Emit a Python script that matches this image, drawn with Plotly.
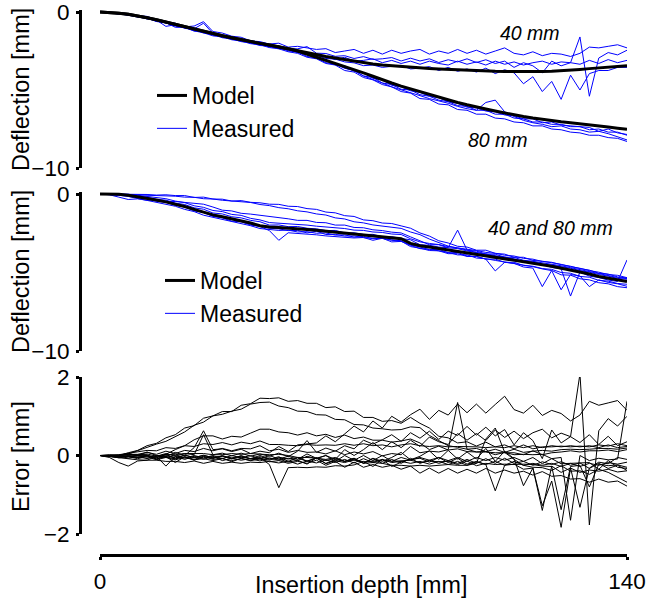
import plotly.graph_objects as go

# ---------------- data ----------------
X_MM = [0, 2.5, 5, 7.5, 10, 12.5, 15, 17.5, 20, 22.5,
        25, 27.5, 30, 32.5, 35, 37.5, 40, 42.5, 45, 47.5,
        50, 52.5, 55, 57.5, 60, 62.5, 65, 67.5, 70, 72.5,
        75, 77.5, 80, 82.5, 85, 87.5, 90, 92.5, 95, 97.5,
        100, 102.5, 105, 107.5, 110, 112.5, 115, 117.5, 120, 122.5,
        125, 127.5, 130, 132.5, 135, 137.5, 140]

# top panel: separate models for 40 mm and 80 mm
MODEL40_TOP = [0, -0.02, -0.08, -0.15, -0.25, -0.37, -0.5, -0.65, -0.8, -0.95,
               -1.1, -1.25, -1.4, -1.52, -1.65, -1.78, -1.9, -2.01, -2.12, -2.23,
               -2.35, -2.47, -2.6, -2.72, -2.85, -2.95, -3.05, -3.15, -3.25, -3.33,
               -3.4, -3.45, -3.5, -3.54, -3.58, -3.62, -3.65, -3.68, -3.71, -3.74,
               -3.76, -3.78, -3.8, -3.81, -3.82, -3.83, -3.83, -3.82, -3.8, -3.77,
               -3.73, -3.68, -3.63, -3.58, -3.54, -3.5, -3.45]
MODEL80_TOP = [0, -0.02, -0.08, -0.15, -0.25, -0.37, -0.5, -0.65, -0.8, -0.95,
               -1.1, -1.25, -1.4, -1.52, -1.65, -1.78, -1.9, -2.01, -2.12, -2.23,
               -2.35, -2.5, -2.7, -2.88, -3.05, -3.25, -3.45, -3.68, -3.9, -4.12,
               -4.35, -4.55, -4.75, -4.93, -5.1, -5.28, -5.45, -5.62, -5.8, -5.95,
               -6.1, -6.22, -6.35, -6.48, -6.6, -6.7, -6.8, -6.89, -6.97, -7.04,
               -7.1, -7.16, -7.22, -7.3, -7.37, -7.45, -7.52]

MEAS40_A = [0, -0.02, -0.08, -0.1, -0.25, -0.28, -0.5, -0.68, -0.72, -0.95,
            -0.9, -0.62, -1.25, -1.35, -1.55, -1.62, -1.85, -1.9, -2.05, -2.0,
            -2.25, -2.2, -2.3, -2.4, -2.35, -2.6, -2.5, -2.4, -2.65, -2.45,
            -2.7, -2.45, -2.65, -2.5, -2.4, -2.7, -2.5, -2.65, -2.4, -2.65,
            -2.45, -2.7, -2.5, -2.3, -2.65, -2.75, -2.55, -2.8, -2.65, -2.7,
            -2.85, -2.65, -2.25, -2.3, -2.2, -2.1, -2.3]
MEAS40_B = [0, -0.05, -0.08, -0.22, -0.28, -0.45, -0.52, -0.92, -0.82, -1.05,
            -1.12, -1.35, -1.42, -1.65, -1.72, -1.9, -1.98, -2.15, -2.18, -2.35,
            -2.42, -2.6, -2.62, -2.8, -2.85, -3.05, -2.9, -3.15, -3.1, -3.0,
            -3.25, -3.1, -3.3, -3.15, -3.35, -3.15, -3.3, -3.4, -3.15, -3.35,
            -3.2, -3.4, -3.15, -3.35, -3.2, -3.4, -3.25, -3.15, -3.35, -3.2,
            -3.25, -3.35, -3.1, -3.3, -3.05, -3.25, -3.1]
MEAS40_C = [0, -0.04, -0.14, -0.18, -0.3, -0.38, -0.58, -0.68, -0.98, -0.98,
            -1.22, -1.28, -1.48, -1.52, -1.73, -1.82, -1.98, -2.08, -2.24, -2.28,
            -2.44, -2.52, -2.74, -2.78, -2.98, -3.02, -3.2, -3.26, -3.44, -3.4,
            -3.55, -3.5, -3.42, -3.65, -3.6, -3.5, -3.75, -3.55, -3.8, -3.65,
            -3.85, -3.6, -3.95, -3.7, -3.9, -4.6, -4.15, -5.1, -4.45, -5.6,
            -4.05, -5.0, -3.95, -3.75, -3.75, -3.55, -3.55]
MEAS40_D = [0, 0, -0.08, -0.12, -0.24, -0.33, -0.52, -0.6, -0.82, -0.9,
            -1.08, -0.72, -1.38, -1.46, -1.66, -1.72, -1.92, -1.97, -2.14, -2.17,
            -2.38, -2.36, -2.22, -2.64, -2.66, -2.84, -2.8, -2.98, -2.86, -3.04,
            -3.0, -2.92, -3.14, -2.96, -3.14, -3.0, -3.24, -3.06, -3.2, -3.0,
            -3.24, -3.06, -3.3, -3.15, -3.55, -3.25, -3.45, -3.9, -3.15, -3.45,
            -3.25, -1.6, -5.4, -2.95, -2.6, -2.75, -2.45]

MEAS80_A = [0, -0.03, -0.12, -0.15, -0.3, -0.37, -0.55, -0.65, -0.86, -0.94,
            -1.16, -1.24, -1.46, -1.54, -1.74, -1.78, -1.99, -2.04, -2.22, -2.26,
            -2.5, -2.56, -2.85, -2.95, -3.25, -3.35, -3.6, -3.75, -4.1, -4.2,
            -4.55, -4.65, -4.95, -5.0, -5.3, -5.4, -5.65, -5.75, -6.0, -6.05,
            -6.3, -6.3, -6.55, -6.55, -6.8, -6.85, -7.05, -7.05, -7.2, -7.2,
            -7.35, -7.35, -7.55, -7.5, -7.7, -7.7, -7.9]
MEAS80_B = [0, -0.02, -0.07, -0.13, -0.23, -0.35, -0.6, -0.62, -0.78, -0.9,
            -1.05, -1.2, -1.38, -1.5, -1.6, -1.75, -1.85, -1.98, -2.1, -2.2,
            -2.35, -2.55, -2.75, -2.95, -3.15, -3.3, -3.6, -3.75, -4.1, -4.3,
            -4.55, -4.8, -5.0, -5.2, -5.35, -5.55, -5.7, -5.85, -6.05, -6.2,
            -6.3, -5.8, -5.65, -6.4, -6.7, -6.95, -7.1, -7.2, -7.35, -7.3,
            -7.5, -7.55, -7.7, -7.65, -7.8, -8.0, -8.2]
MEAS80_C = [0, -0.04, -0.08, -0.18, -0.24, -0.41, -0.5, -0.7, -0.8, -1.02,
            -1.1, -1.31, -1.4, -1.6, -1.65, -1.84, -1.9, -2.1, -2.12, -2.32,
            -2.37, -2.6, -2.66, -2.95, -3.05, -3.4, -3.45, -3.8, -3.9, -4.25,
            -4.35, -4.7, -4.8, -5.05, -5.15, -5.4, -5.5, -5.75, -5.85, -6.1,
            -6.15, -6.35, -6.4, -6.6, -6.65, -6.85, -6.85, -7.1, -7.05, -7.25,
            -7.3, -7.35, -7.4, -7.65, -7.5, -7.75, -7.85]
MEAS80_D = [0, -0.04, -0.12, -0.18, -0.33, -0.4, -0.61, -0.7, -0.91, -1.0,
            -1.21, -1.33, -1.53, -1.6, -1.78, -1.86, -2.03, -2.1, -2.28, -2.36,
            -2.55, -2.65, -2.9, -3.0, -3.3, -3.4, -3.75, -3.85, -4.2, -4.35,
            -4.65, -4.8, -5.1, -5.2, -5.55, -5.6, -5.9, -5.95, -6.25, -6.3,
            -6.55, -6.55, -6.8, -6.85, -7.05, -7.1, -7.3, -7.3, -7.5, -7.55,
            -7.7, -7.75, -7.9, -7.9, -8.05, -8.1, -8.3]

# middle panel: one model for 40 and 80 mm
MODEL_MID = [0, 0, -0.02, -0.08, -0.17, -0.28, -0.38, -0.5, -0.63, -0.8,
             -0.98, -1.15, -1.33, -1.45, -1.57, -1.7, -1.85, -2.02, -2.1, -2.13,
             -2.16, -2.2, -2.26, -2.31, -2.37, -2.44, -2.5, -2.56, -2.62, -2.67,
             -2.72, -2.77, -2.85, -3.15, -3.3, -3.38, -3.47, -3.57, -3.65, -3.73,
             -3.82, -3.92, -4.0, -4.1, -4.2, -4.3, -4.4, -4.5, -4.6, -4.72,
             -4.85, -4.97, -5.1, -5.25, -5.37, -5.48, -5.58]
MID_1 = [0, 0, -0.02, -0.01, -0.04, -0.03, -0.07, -0.05, -0.1, -0.1,
         -0.22, -0.2, -0.32, -0.33, -0.45, -0.42, -0.53, -0.56, -0.65, -0.66,
         -0.78, -0.8, -0.93, -0.98, -1.15, -1.2, -1.38, -1.43, -1.65, -1.7,
         -1.85, -1.88, -2.03, -2.18, -2.48, -2.68, -2.98, -3.12, -3.33, -3.38,
         -3.58, -3.58, -3.78, -3.83, -4.03, -4.03, -4.23, -4.28, -4.38, -4.48,
         -4.63, -4.73, -4.88, -4.98, -5.13, -5.18, -5.33]
MID_2 = [0, 0, -0.01, -0.04, -0.04, -0.08, -0.09, -0.14, -0.14, -0.2,
         -0.21, -0.3, -0.32, -0.4, -0.44, -0.52, -0.54, -0.67, -0.74, -0.87,
         -0.94, -1.07, -1.14, -1.27, -1.34, -1.52, -1.59, -1.77, -1.84, -1.97,
         -2.04, -2.12, -2.19, -2.42, -2.59, -2.87, -3.09, -3.32, -3.44, -3.57,
         -3.64, -3.82, -3.84, -4.02, -4.04, -4.22, -4.29, -4.37, -4.49, -4.57,
         -4.69, -4.82, -4.94, -5.07, -5.19, -5.32, -5.39]
MID_3 = [0, -0.05, -0.2, -0.35, -0.31, -0.4, -0.4, -0.47, -0.48, -0.55,
         -0.58, -0.65, -0.83, -1.03, -1.08, -1.23, -1.28, -1.35, -1.43, -1.53,
         -1.58, -1.68, -1.68, -1.81, -1.83, -1.98, -1.98, -2.13, -2.15, -2.28,
         -2.33, -2.43, -2.48, -2.73, -2.98, -3.23, -3.23, -3.43, -3.48, -3.63,
         -3.73, -3.83, -3.93, -4.03, -4.13, -4.28, -4.28, -4.48, -4.53, -4.63,
         -4.73, -4.88, -4.98, -5.13, -5.23, -5.38, -5.43]
MID_4 = [0, -0.02, -0.06, -0.09, -0.17, -0.28, -0.47, -0.53, -0.72, -0.83,
         -1.08, -1.17, -1.43, -1.52, -1.73, -1.77, -1.98, -2.07, -2.33, -2.95,
         -2.47, -2.5, -2.57, -2.6, -2.67, -2.7, -2.77, -2.8, -2.77, -2.95,
         -2.82, -3.05, -3.02, -3.25, -3.37, -3.55, -3.52, -3.75, -3.72, -3.95,
         -3.97, -4.15, -4.9, -4.35, -4.42, -4.65, -4.72, -5.9, -4.87, -5.15,
         -5.17, -5.4, -5.47, -5.65, -5.72, -5.9, -5.97]
MID_5 = [0, 0, -0.04, -0.05, -0.14, -0.2, -0.35, -0.39, -0.58, -0.67,
         -0.88, -0.97, -1.21, -1.27, -1.45, -1.52, -1.68, -1.77, -1.98, -1.97,
         -2.08, -2.07, -2.18, -2.22, -2.33, -2.32, -2.48, -2.47, -2.58, -2.57,
         -2.73, -2.72, -2.83, -2.92, -3.23, -3.27, -3.38, -3.42, -2.3, -3.57,
         -3.73, -3.82, -3.98, -4.02, -4.18, -4.27, -4.38, -4.47, -4.68, -4.77,
         -6.5, -4.97, -5.23, -5.32, -5.48, -5.57, -4.2]
MID_6 = [0, -0.01, -0.05, -0.09, -0.22, -0.28, -0.43, -0.47, -0.71, -0.79,
         -1.03, -1.15, -1.38, -1.47, -1.63, -1.72, -1.93, -2.02, -2.18, -2.22,
         -2.33, -2.32, -2.48, -2.37, -2.58, -2.57, -2.68, -2.67, -2.78, -2.82,
         -2.83, -2.92, -2.98, -3.27, -3.48, -3.52, -3.63, -3.72, -3.88, -3.87,
         -4.08, -4.12, -4.23, -4.32, -4.43, -4.52, -4.63, -4.77, -4.88, -6.1,
         -5.13, -5.22, -5.9, -5.47, -5.63, -5.72, -5.88]
MID_7 = [0, 0, 0, -0.02, -0.08, -0.15, -0.26, -0.3, -0.45, -0.55,
         -0.75, -0.85, -1.05, -1.12, -1.3, -1.36, -1.55, -1.65, -1.82, -1.85,
         -1.9, -1.95, -1.98, -2.05, -2.1, -2.18, -2.2, -2.3, -2.32, -2.42,
         -2.45, -2.55, -2.58, -2.85, -3.05, -3.15, -3.22, -3.35, -3.42, -3.5,
         -3.6, -3.72, -3.78, -3.9, -3.95, -4.1, -4.15, -4.3, -4.35, -4.5,
         -4.6, -4.75, -4.85, -5.05, -5.1, -5.28, -5.35]
MID_8 = [0, -0.03, -0.08, -0.16, -0.28, -0.4, -0.5, -0.65, -0.78, -0.98,
         -1.12, -1.35, -1.48, -1.65, -1.74, -1.9, -2.02, -2.2, -2.25, -2.32,
         -2.3, -2.42, -2.4, -2.5, -2.48, -2.62, -2.6, -2.75, -2.7, -2.85,
         -2.82, -2.95, -3.0, -3.35, -3.45, -3.6, -3.62, -3.8, -3.8, -3.98,
         -3.98, -4.15, -4.15, -4.35, -4.35, -4.55, -4.6, -4.75, -4.8, -5.0,
         -5.05, -5.25, -5.3, -5.5, -5.55, -5.7, -5.75]

TOP40 = [MEAS40_A, MEAS40_B, MEAS40_C, MEAS40_D]
TOP80 = [MEAS80_A, MEAS80_B, MEAS80_C, MEAS80_D]
MIDS = [MID_1, MID_2, MID_3, MID_4, MID_5, MID_6, MID_7, MID_8]

for s in TOP40 + TOP80 + MIDS + [MODEL40_TOP, MODEL80_TOP, MODEL_MID]:
    assert len(s) == len(X_MM), len(s)

X_TICKS = [0, 140]
DEFL_TICKS = [0, -10]
ERR_TICKS = [2, 0, -2]

# ---------------- styling ----------------
FONT = "Liberation Sans, Arial, sans-serif"
BLUE = "#0000FF"
W, H = 647, 599


def px_x(p):
    return p / W


def px_y(p):
    return 1 - p / H


fig = go.Figure()

# ----- top panel -----
first = True
for m in TOP40 + TOP80:
    fig.add_trace(go.Scatter(x=X_MM, y=m, mode="lines", xaxis="x", yaxis="y",
                             line=dict(color=BLUE, width=1), name="Measured",
                             showlegend=first, legend="legend", legendrank=2,
                             hoverinfo="skip"))
    first = False
for i, mod in enumerate([MODEL40_TOP, MODEL80_TOP]):
    fig.add_trace(go.Scatter(x=X_MM, y=mod, mode="lines", xaxis="x", yaxis="y",
                             line=dict(color="black", width=3), name="Model",
                             showlegend=(i == 0), legend="legend", legendrank=1,
                             hoverinfo="skip"))

# ----- middle panel -----
first = True
for m in MIDS:
    fig.add_trace(go.Scatter(x=X_MM, y=m, mode="lines", xaxis="x", yaxis="y2",
                             line=dict(color=BLUE, width=1), name="Measured",
                             showlegend=first, legend="legend2", legendrank=2,
                             hoverinfo="skip"))
    first = False
fig.add_trace(go.Scatter(x=X_MM, y=MODEL_MID, mode="lines", xaxis="x", yaxis="y2",
                         line=dict(color="black", width=3), name="Model",
                         showlegend=True, legend="legend2", legendrank=1,
                         hoverinfo="skip"))

# ----- bottom panel: error = measured - model -----
pairs = [(m, MODEL40_TOP) for m in TOP40] + [(m, MODEL80_TOP) for m in TOP80] + \
        [(m, MODEL_MID) for m in MIDS]
for meas, mod in pairs:
    err = [a - b for a, b in zip(meas, mod)]
    fig.add_trace(go.Scatter(x=X_MM, y=err, mode="lines", xaxis="x", yaxis="y3",
                             line=dict(color="black", width=1), showlegend=False,
                             hoverinfo="skip"))

axis_common = dict(showline=True, linecolor="black", linewidth=3, ticks="outside",
                   ticklen=3, tickwidth=3, tickcolor="black", showgrid=False,
                   zeroline=False, automargin=False, ticklabeloverflow="allow",
                   tickfont=dict(family=FONT, size=22.5, color="black"))

fig.update_layout(
    width=W, height=H,
    margin=dict(l=0, r=0, t=0, b=0, autoexpand=False),
    plot_bgcolor="white", paper_bgcolor="white",
    font=dict(family=FONT, size=22, color="black"),
    xaxis=dict(domain=[px_x(100), px_x(627)], range=[0, 140], anchor="free",
               position=px_y(555), tickvals=X_TICKS, ticklabelstandoff=2,
               **axis_common),
    yaxis=dict(domain=[px_y(168), px_y(9.66)], range=[-10, 0.15], anchor="free",
               position=px_x(80), tickvals=DEFL_TICKS, ticklabelstandoff=2,
               **axis_common),
    yaxis2=dict(domain=[px_y(351), px_y(191.64)], range=[-10, 0.15], anchor="free",
                position=px_x(80), tickvals=DEFL_TICKS, ticklabelstandoff=2,
                **axis_common),
    yaxis3=dict(domain=[px_y(534), px_y(377)], range=[-2, 2], anchor="free",
                position=px_x(80), tickvals=ERR_TICKS, ticklabelstandoff=2,
                **axis_common),
    legend=dict(x=px_x(152), xanchor="left", y=px_y(112), yanchor="middle",
                bgcolor="rgba(0,0,0,0)", borderwidth=0,
                font=dict(family=FONT, size=23, color="black")),
    legend2=dict(x=px_x(160), xanchor="left", y=px_y(297), yanchor="middle",
                 bgcolor="rgba(0,0,0,0)", borderwidth=0,
                 font=dict(family=FONT, size=23, color="black")),
    showlegend=True,
)

annos = [
    dict(text="<i>40 mm</i>", x=114.2, y=-1.35, xref="x", yref="y", font_size=19.5),
    dict(text="<i>80 mm</i>", x=105.7, y=-8.2, xref="x", yref="y", font_size=19.5),
    dict(text="<i>40 and 80 mm</i>", x=119.8, y=-2.17, xref="x", yref="y2", font_size=19.5),
    dict(text="Deflection [mm]", x=px_x(21), y=px_y(90), xref="paper", yref="paper",
         textangle=-90, font_size=23.5),
    dict(text="Deflection [mm]", x=px_x(21), y=px_y(272), xref="paper", yref="paper",
         textangle=-90, font_size=23.5),
    dict(text="Error [mm]", x=px_x(21), y=px_y(457), xref="paper", yref="paper",
         textangle=-90, font_size=23.5),
    dict(text="Insertion depth [mm]", x=px_x(361), y=px_y(585), xref="paper",
         yref="paper", font_size=23.3),
]
for a in annos:
    fs = a.pop("font_size")
    fig.add_annotation(showarrow=False, xanchor="center", yanchor="middle",
                       font=dict(family=FONT, size=fs, color="black"), **a)

# the default page margin would shift the figure by 8 px; remove it
fig.write_html("out.html",
               config={"displayModeBar": False},
               post_script="document.body.style.margin='0';"
                           "document.body.style.overflow='hidden';")
